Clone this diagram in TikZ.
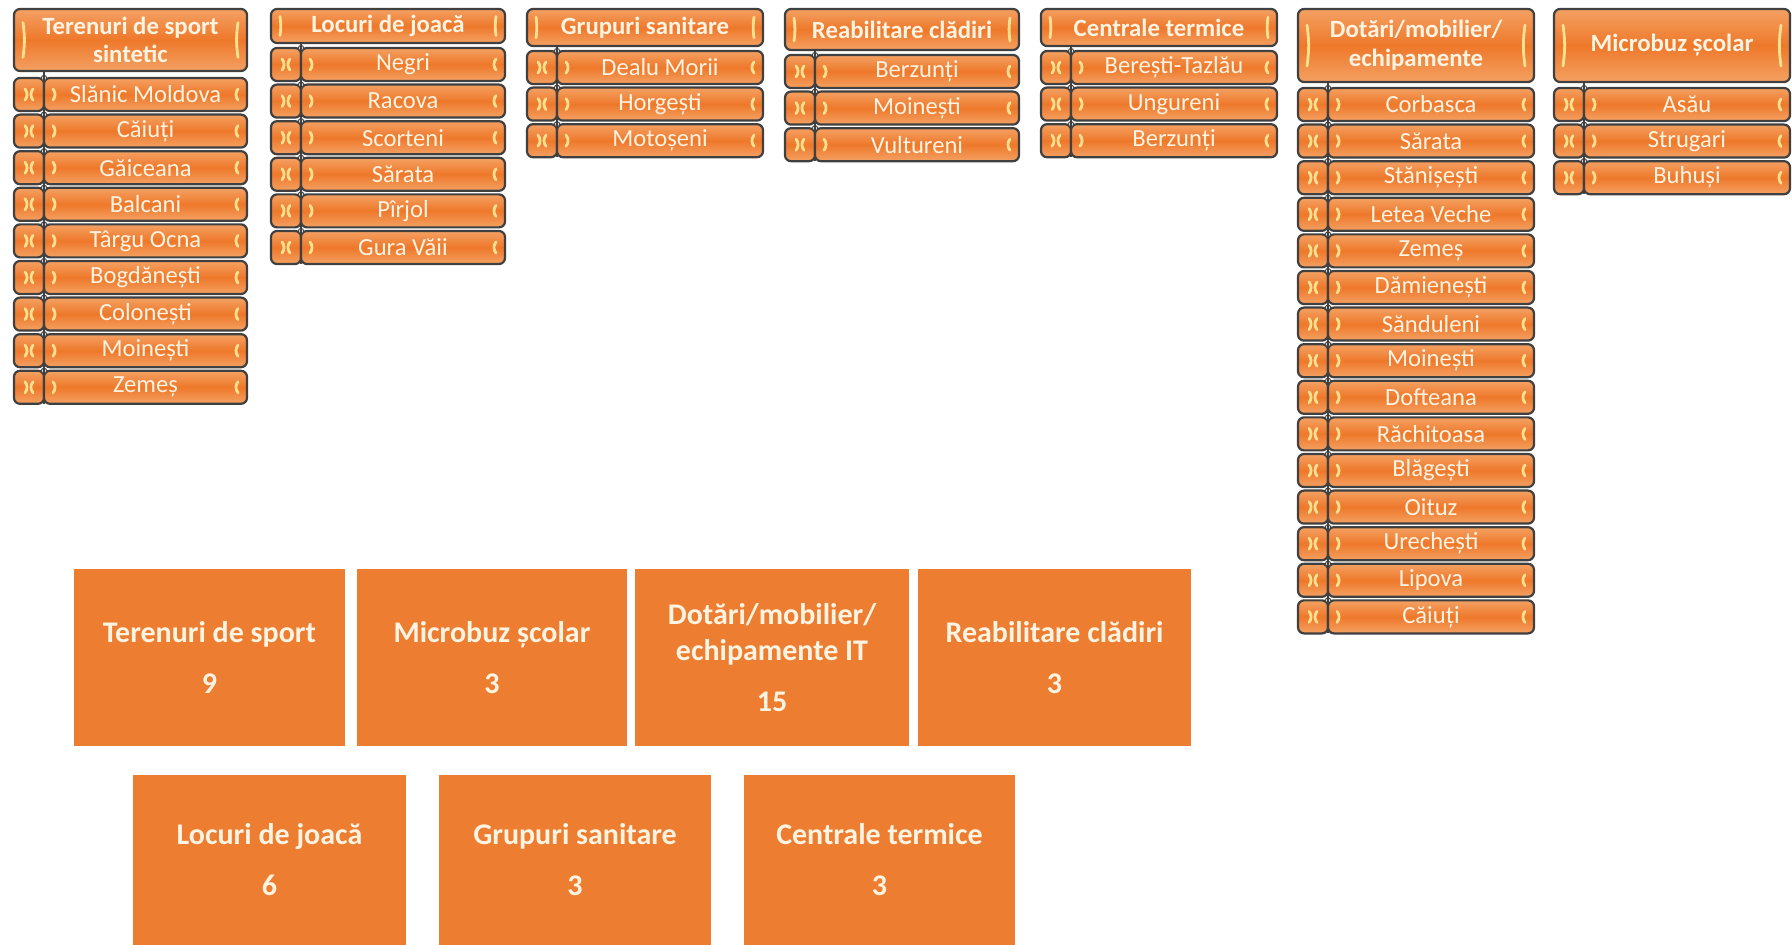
\documentclass[tikz,border=0pt]{standalone}
\usepackage{fontspec}
\setmainfont{Carlito}
\definecolor{brorange}{HTML}{EE782A}
\definecolor{brlight}{HTML}{F4A163}
\definecolor{brline}{HTML}{404040}
\definecolor{brmark}{HTML}{FFE08E}
\definecolor{sumorange}{HTML}{ED7D31}
\definecolor{txtcream}{HTML}{FFF3E2}
\tikzset{
  listbox/.style={draw=brline, line width=1.1pt, rounded corners=3pt,
    top color=brlight, bottom color=brlight, middle color=brorange,
    inner sep=0pt, outer sep=0pt, text=txtcream, align=center},
  headbox/.style={listbox, font=\bfseries\fontsize{12.4}{14.3}\selectfont},
  itembox/.style={listbox, font=\fontsize{12.3}{14}\selectfont},
  tabbox/.style={listbox},
  bracket/.style={draw=brmark, line width=1.4pt, line cap=round},
  joint/.style={draw=brline, line width=1.1pt},
  sumbox/.style={fill=sumorange, inner sep=0pt, text=txtcream, align=center,
    font=\bfseries\fontsize{15}{18}\selectfont}
}
% header of a bracket list: [name](left:right:top:bottom){text}
\def\brackethead[#1](#2:#3:#4:#5)#6{%
  \node[headbox, minimum width={(#3-#2)*0.5pt}, minimum height={(#5-#4)*0.5pt}] (#1) at ({(#2+#3)/2},{(#4+#5)/2}) {#6};
  \draw[bracket] ({#2+9},{#4+0.22*(#5-#4)}) to[bend left=8] ({#2+9},{#5-0.22*(#5-#4)});
  \draw[bracket] ({#3-9},{#4+0.22*(#5-#4)}) to[bend right=8] ({#3-9},{#5-0.22*(#5-#4)});
}
% one row of a bracket list: [name](left:right:first top:index){text}
\def\bracketitem[#1](#2:#3:#4:#5)#6{%
  \pgfmathsetmacro\itop{#4+36.6*#5}
  \node[tabbox, minimum width=15pt, minimum height=16.5pt] (#1t) at ({#2+15},{\itop+16.5}) {};
  \node[itembox, minimum width={(#3-#2-30)*0.5pt}, minimum height=16.5pt] (#1) at ({(#2+30+#3)/2},{\itop+16.5}) {#6};
  \draw[bracket] ({#2+11},{\itop+11}) to[bend left=40] ({#2+11},{\itop+22});
  \draw[bracket] ({#2+19},{\itop+11}) to[bend right=40] ({#2+19},{\itop+22});
  \draw[bracket] ({#2+39},{\itop+11}) to[bend left=40] ({#2+39},{\itop+22});
  \draw[bracket] ({#3-9},{\itop+11}) to[bend right=40] ({#3-9},{\itop+22});
  \filldraw[fill=white, draw=brline, line width=0.5pt] (#1t.north east) circle (1.3pt);
}

\begin{document}
\begin{tikzpicture}[x=0.5pt, y=-0.5pt]
		%%%%% START %%%%%
		\fill[white] (0,0) rectangle (1792,945);
		\useasboundingbox (0,0) rectangle (1792,945);
		
		% terenuri de sport
		\brackethead[terh](14:247:9:71){Terenuri de sport\\sintetic}
		\bracketitem[ter1](14:247:78:0){Slănic Moldova}
		\bracketitem[ter2](14:247:78:1){Căiuți}
		\bracketitem[ter3](14:247:78:2){Găiceana}
		\bracketitem[ter4](14:247:78:3){Balcani}
		\bracketitem[ter5](14:247:78:4){Târgu Ocna}
		\bracketitem[ter6](14:247:78:5){Bogdănești}
		\bracketitem[ter7](14:247:78:6){Colonești}
		\bracketitem[ter8](14:247:78:7){Moinești}
		\bracketitem[ter9](14:247:78:8){Zemeș}
		\draw[joint] (terh.south -| ter1t.east) -- (ter9t.south east);
		
		% locuri de joaca
		\brackethead[loch](271:505:9:43){Locuri de joacă}
		\bracketitem[loc1](271:505:48:0){Negri}
		\bracketitem[loc2](271:505:48:1){Racova}
		\bracketitem[loc3](271:505:48:2){Scorteni}
		\bracketitem[loc4](271:505:48:3){Sărata}
		\bracketitem[loc5](271:505:48:4){Pîrjol}
		\bracketitem[loc6](271:505:48:5){Gura Văii}
		\draw[joint] (loch.south -| loc1t.east) -- (loc6t.south east);
		
		% grupuri sanitare
		\brackethead[gruh](527:763:9:46){Grupuri sanitare}
		\bracketitem[gru1](527:763:51:0){Dealu Morii}
		\bracketitem[gru2](527:763:51:1){Horgești}
		\bracketitem[gru3](527:763:51:2){Motoșeni}
		\draw[joint] (gruh.south -| gru1t.east) -- (gru3t.south east);
		
		% reabilitare cladiri
		\brackethead[reah](785:1019:9:50){Reabilitare clădiri}
		\bracketitem[rea1](785:1019:55:0){Berzunți}
		\bracketitem[rea2](785:1019:55:1){Moinești}
		\bracketitem[rea3](785:1019:55:2){Vultureni}
		\draw[joint] (reah.south -| rea1t.east) -- (rea3t.south east);
		
		% centrale termice
		\brackethead[cenh](1041:1277:9:46){Centrale termice}
		\bracketitem[cen1](1041:1277:51:0){Berești-Tazlău}
		\bracketitem[cen2](1041:1277:51:1){Ungureni}
		\bracketitem[cen3](1041:1277:51:2){Berzunți}
		\draw[joint] (cenh.south -| cen1t.east) -- (cen3t.south east);
		
		% dotari
		\brackethead[doth](1298:1534:9:82){Dotări/mobilier/\\echipamente}
		\bracketitem[dot1](1298:1534:88:0){Corbasca}
		\bracketitem[dot2](1298:1534:88:1){Sărata}
		\bracketitem[dot3](1298:1534:88:2){Stănișești}
		\bracketitem[dot4](1298:1534:88:3){Letea Veche}
		\bracketitem[dot5](1298:1534:88:4){Zemeș}
		\bracketitem[dot6](1298:1534:88:5){Dămienești}
		\bracketitem[dot7](1298:1534:88:6){Sănduleni}
		\bracketitem[dot8](1298:1534:88:7){Moinești}
		\bracketitem[dot9](1298:1534:88:8){Dofteana}
		\bracketitem[dot10](1298:1534:88:9){Răchitoasa}
		\bracketitem[dot11](1298:1534:88:10){Blăgești}
		\bracketitem[dot12](1298:1534:88:11){Oituz}
		\bracketitem[dot13](1298:1534:88:12){Urechești}
		\bracketitem[dot14](1298:1534:88:13){Lipova}
		\bracketitem[dot15](1298:1534:88:14){Căiuți}
		\draw[joint] (doth.south -| dot1t.east) -- (dot15t.south east);
		
		% microbuz
		\brackethead[mich](1554:1790:9:82){Microbuz școlar}
		\bracketitem[mic1](1554:1790:88:0){Asău}
		\bracketitem[mic2](1554:1790:88:1){Strugari}
		\bracketitem[mic3](1554:1790:88:2){Buhuși}
		\draw[joint] (mich.south -| mic1t.east) -- (mic3t.south east);
		
		% totals
		\node[sumbox, minimum width=135.5pt, minimum height=88.5pt] (sumter) at (209.5,657.5) {Terenuri de sport\\[7.5pt]9};
		\node[sumbox, minimum width=135pt, minimum height=88.5pt] (summic) at (492,657.5) {Microbuz școlar\\[7.5pt]3};
		\node[sumbox, minimum width=137pt, minimum height=88.5pt] (sumdot) at (772,657.5) {Dotări/mobilier/\\echipamente IT\\[7.5pt]15};
		\node[sumbox, minimum width=136.5pt, minimum height=88.5pt] (sumrea) at (1054.5,657.5) {Reabilitare clădiri\\[7.5pt]3};
		\node[sumbox, minimum width=136.5pt, minimum height=85pt] (sumloc) at (269.5,860) {Locuri de joacă\\[7.5pt]6};
		\node[sumbox, minimum width=136pt, minimum height=85pt] (sumgru) at (575,860) {Grupuri sanitare\\[7.5pt]3};
		\node[sumbox, minimum width=135.5pt, minimum height=85pt] (sumcen) at (879.5,860) {Centrale termice\\[7.5pt]3};
		%%%%% END %%%%%
\end{tikzpicture}
\end{document}
